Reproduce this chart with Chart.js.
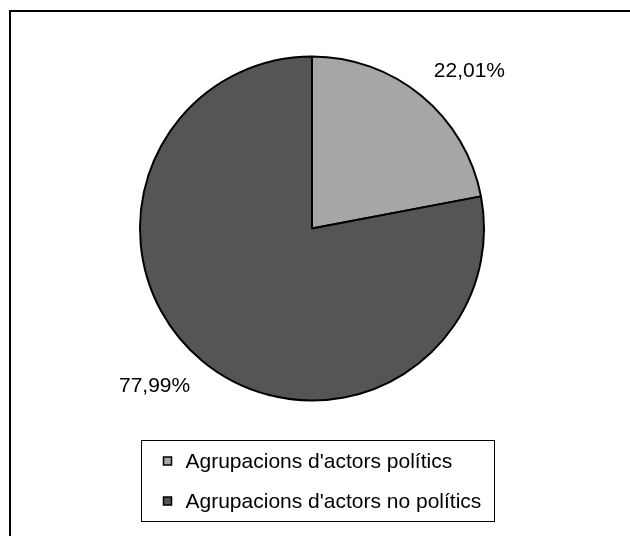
<!DOCTYPE html>
<html>
<head>
<meta charset="utf-8">
<script src="https://cdn.jsdelivr.net/npm/chart.js@4/dist/chart.umd.min.js"></script>
<style>
  html, body { margin: 0; padding: 0; background: #fff; }
  #wrap { position: relative; width: 630px; height: 536px; overflow: hidden; }
  #frame { position: absolute; left: 9px; top: 10px; width: 700px; height: 600px; border: 2px solid #000; }
  canvas { position: absolute; left: 0; top: 0; }
</style>
</head>
<body>
<div id="wrap">
  <div id="frame"></div>
  <canvas id="pie" width="630" height="536"></canvas>
</div>
<script>
const categories = ["Agrupacions d'actors polítics", "Agrupacions d'actors no polítics"];
const shares = [22.01, 77.99];
const sliceColors = ['#a6a6a6', '#555555'];

const FONT = '"Liberation Sans", Arial, sans-serif';

function fmtPct(v) {
    return v.toFixed(2).replace('.', ',') + '%';
}

// percentage labels outside each slice
const sliceLabels = {
    id: 'sliceLabels',
    afterDatasetsDraw(chart) {
        const ctx = chart.ctx;
        const meta = chart.getDatasetMeta(0);
        ctx.save();
        ctx.font = '21px ' + FONT;
        ctx.fillStyle = '#000';
        meta.data.forEach((arc, i) => {
            const p = arc.getProps(['x', 'y', 'startAngle', 'endAngle', 'outerRadius'], true);
            const mid = (p.startAngle + p.endAngle) / 2;
            const d = p.outerRadius + 19;
            const px = p.x + Math.cos(mid) * d;
            const py = p.y + Math.sin(mid) * d;
            ctx.textAlign = Math.cos(mid) >= 0 ? 'left' : 'right';
            ctx.textBaseline = Math.sin(mid) < 0 ? 'bottom' : 'top';
            ctx.fillText(fmtPct(shares[i]), px, py);
        });
        ctx.restore();
    }
};

// boxed legend below the pie
const boxLegend = {
    id: 'boxLegend',
    afterDraw(chart) {
        const ctx = chart.ctx;
        ctx.save();
        ctx.font = '21px ' + FONT;
        let maxW = 0;
        categories.forEach(c => { maxW = Math.max(maxW, ctx.measureText(c).width); });
        const boxW = Math.round(22 + 8 + 14 + maxW + 13);
        const left = Math.round(317 - boxW / 2) + 0.5;
        const top = 440.5;
        const boxH = 81;
        ctx.fillStyle = '#fff';
        ctx.fillRect(left, top, boxW, boxH);
        ctx.strokeStyle = '#000';
        ctx.lineWidth = 1;
        ctx.strokeRect(left, top, boxW, boxH);
        ctx.textAlign = 'left';
        ctx.textBaseline = 'middle';
        categories.forEach((c, i) => {
            const cy = top + 20.5 + i * 40;
            ctx.fillStyle = sliceColors[i];
            ctx.fillRect(left + 22, cy - 4, 8, 8);
            ctx.strokeStyle = '#000';
            ctx.lineWidth = 1.5;
            ctx.strokeRect(left + 22, cy - 4, 8, 8);
            ctx.fillStyle = '#000';
            ctx.fillText(c, left + 44, cy + 1);
        });
        ctx.restore();
    }
};

new Chart(document.getElementById('pie').getContext('2d'), {
    type: 'pie',
    data: {
        labels: categories,
        datasets: [{
            data: shares,
            backgroundColor: sliceColors,
            borderColor: '#000',
            borderWidth: 2,
            radius: 172
        }]
    },
    options: {
        responsive: false,
        animation: false,
        layout: {padding: {left: 140, right: 146, top: 56, bottom: 135}},
        plugins: {
            legend: {display: false},
            tooltip: {enabled: false}
        }
    },
    plugins: [sliceLabels, boxLegend]
});
</script>
</body>
</html>
